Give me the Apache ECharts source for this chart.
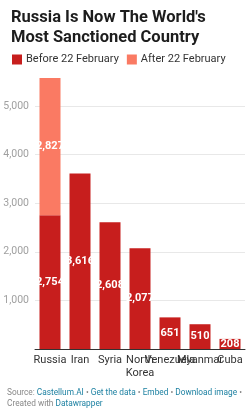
<!DOCTYPE html>
<html><head><meta charset="utf-8">
<script src="https://cdn.jsdelivr.net/npm/echarts@6/dist/echarts.min.js"></script>
<style>html,body{margin:0;padding:0;background:#fff;}#c{width:250px;height:414px;}</style>
</head><body><div id="c"></div>
<script>
const categories = ["Russia", "Iran", "Syria", "North\nKorea", "Venezuela", "Myanmar", "Cuba"];
const beforeValues = [2754, 3616, 2608, 2077, 651, 510, 208];
const afterValues = [2827, null, null, null, null, null, null];
const yTicks = [0, 1000, 2000, 3000, 4000, 5000];
const seriesNames = ["Before 22 February", "After 22 February"];
const titleText = "Russia Is Now The World's\nMost Sanctioned Country";

const fmt = v => v.toLocaleString('en-US');
const chart = echarts.init(document.getElementById('c'), null, {renderer: 'canvas'});
const labelStyle = {
  show: true, position: 'inside', color: '#fff', fontFamily: 'Roboto', fontWeight: 'bold', fontSize: 11,
  formatter: p => fmt(p.value)
};
chart.setOption({
  animation: false,
  textStyle: {fontFamily: 'Roboto'},
  title: {
    text: titleText, left: 6, top: 3,
    textStyle: {fontFamily: 'Roboto', fontWeight: 'bold', fontSize: 16.5, lineHeight: 20, color: '#1d1d1d'}
  },
  legend: {
    left: 7, top: 49, itemWidth: 10, itemHeight: 10, itemGap: 8,
    icon: 'rect',
    textStyle: {fontFamily: 'Roboto', fontSize: 11, color: '#333', padding: [0, 0, 0, -1]},
    data: seriesNames
  },
  grid: {left: 35, right: 5, top: 78, bottom: 65, containLabel: false},
  xAxis: {
    type: 'category', data: categories,
    axisTick: {show: false},
    axisLine: {lineStyle: {color: '#333', width: 1}},
    axisLabel: {fontFamily: 'Roboto', fontSize: 11, color: '#333', interval: 0, margin: 5, lineHeight: 13}
  },
  yAxis: {
    type: 'value', min: 0, max: yTicks[yTicks.length - 1] + 580, interval: 1000,
    axisLabel: {
      fontFamily: 'Roboto', fontSize: 10.5, color: '#a0a0a0', margin: 6,
      formatter: v => (yTicks.includes(v) && v > 0) ? fmt(v) : ''
    },
    splitLine: {lineStyle: {color: '#e8e8e8'}, showMinLine: false, showMaxLine: false},
    axisLine: {show: false}, axisTick: {show: false}
  },
  series: [
    {name: seriesNames[0], type: 'bar', stack: 's', data: beforeValues, barWidth: 21,
     itemStyle: {color: '#c71e1d'}, label: labelStyle},
    {name: seriesNames[1], type: 'bar', stack: 's', data: afterValues, barWidth: 21,
     itemStyle: {color: '#fa7a63'}, label: labelStyle}
  ],
  graphic: [{
    type: 'text', left: 7, top: 389,
    style: {
      rich: {
        g: {fill: '#888', fontFamily: 'Roboto', fontSize: 8.3, lineHeight: 11},
        b: {fill: '#1d81a2', fontFamily: 'Roboto', fontSize: 8.3, lineHeight: 11}
      },
      text: '{g|Source: }{b|Castellum.AI}{g| • }{b|Get the data}{g| • }{b|Embed}{g| • }{b|Download image}{g| •}\n{g|Created with }{b|Datawrapper}'
    }
  }]
});
</script></body></html>
